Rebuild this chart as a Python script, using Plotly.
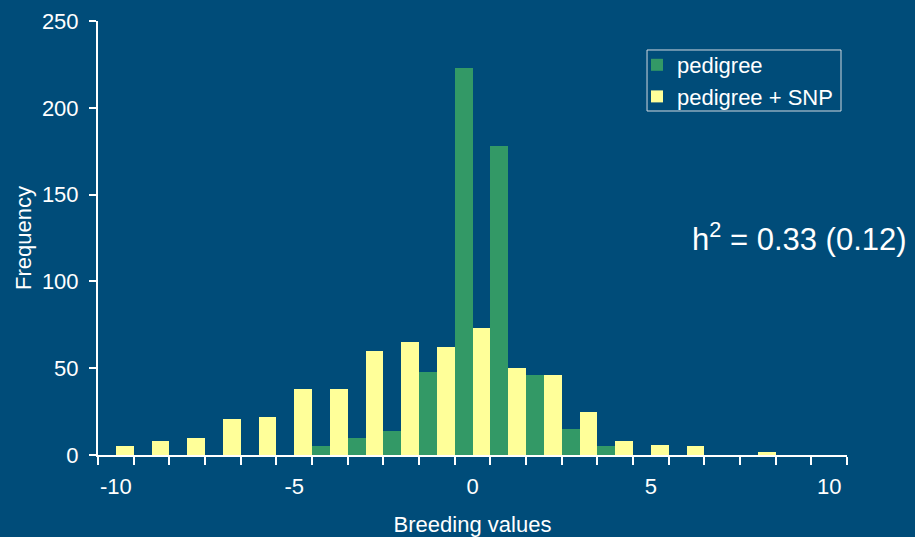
import plotly.graph_objects as go

bins = list(range(-10, 11))
pedigree = [0, 0, 0, 0, 0, 0, 5, 10, 14, 48, 223, 178, 46, 15, 5, 0, 0, 0, 0, 0, 0]
pedigree_snp = [5, 8, 10, 21, 22, 38, 38, 60, 65, 62, 73, 50, 46, 25, 8, 6, 5, 0, 2, 0, 0]
x_ticks = [-10, -5, 0, 5, 10]
y_ticks = [0, 50, 100, 150, 200, 250]

BG = "rgb(0,76,121)"
GREEN = "#339966"
YELLOW = "#FFFF99"
FONT = "Liberation Sans, Arial, sans-serif"
FS = 22

fig = go.Figure()
fig.add_trace(go.Bar(x=bins, y=pedigree, name="pedigree",
                     marker=dict(color=GREEN, line=dict(width=0))))
fig.add_trace(go.Bar(x=bins, y=pedigree_snp, name="pedigree + SNP",
                     marker=dict(color=YELLOW, line=dict(width=0))))

fig.add_annotation(text="h<sup>2</sup> = 0.33 (0.12)", xref="paper", yref="paper",
                   x=0.9366, y=0.503, xanchor="center", yanchor="middle",
                   showarrow=False, font=dict(size=31, color="white", family=FONT))

# legend frame
fig.add_shape(type="rect", xref="paper", yref="paper",
              x0=0.733, x1=0.992, y0=0.7926, y1=0.9332,
              line=dict(color="#d0d8e0", width=1), fillcolor="rgba(0,0,0,0)")

fig.update_layout(
    width=915, height=537,
    paper_bgcolor=BG, plot_bgcolor=BG,
    margin=dict(l=98, r=68, t=21, b=82, autoexpand=False),
    barmode="group", bargap=0, bargroupgap=0,
    font=dict(family=FONT, color="white", size=FS),
    showlegend=True,
    legend=dict(x=0.7196, y=0.947, xanchor="left", yanchor="top",
                bgcolor="rgba(0,0,0,0)", borderwidth=0,
                tracegroupgap=0, itemwidth=30,
                font=dict(size=FS, color="white", family=FONT)),
    xaxis=dict(
        range=[-10.5, 10.5], tickmode="array", tickvals=x_ticks,
        ticktext=[str(v) for v in x_ticks],
        showgrid=False, zeroline=False, automargin=False,
        showline=True, linecolor="white", linewidth=2,
        ticks="outside", ticklen=0, tickcolor="white",
        ticklabelstandoff=11,
        minor=dict(tickmode="linear", tick0=-10.5, dtick=1, ticks="outside",
                   ticklen=8, tickwidth=2, tickcolor="white", showgrid=False),
        tickfont=dict(size=FS, color="white"),
        title=dict(text="Breeding values", font=dict(size=FS, color="white"), standoff=18),
    ),
    yaxis=dict(
        range=[0, 250], tickmode="array", tickvals=y_ticks,
        showgrid=False, zeroline=False, automargin=False,
        showline=True, linecolor="white", linewidth=2,
        ticks="outside", ticklen=7, tickwidth=2, tickcolor="white",
        ticklabelstandoff=6,
        tickfont=dict(size=FS, color="white"),
        title=dict(text="Frequency", font=dict(size=FS, color="white"), standoff=4),
    ),
)

fig.write_html("out.html", config={"displayModeBar": False},
               post_script="document.body.style.margin='0';document.body.style.padding='0';"
                           "document.body.style.background='rgb(0,76,121)';")
